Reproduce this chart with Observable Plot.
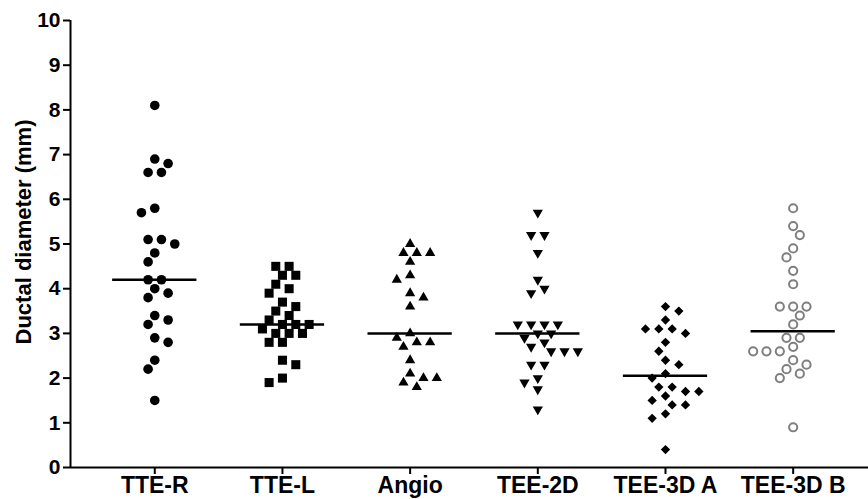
<!DOCTYPE html>
<html>
<head>
<meta charset="utf-8">
<script src="https://cdn.jsdelivr.net/npm/d3@7"></script>
<script src="https://cdn.jsdelivr.net/npm/@observablehq/plot@0.6"></script>
<style>
  html, body { margin: 0; padding: 0; background: #fff; }
  #chart { width: 868px; height: 499px; }
</style>
</head>
<body>
<div id="chart"></div>
<script>
// ---- data ----
const groups = ["TTE-R", "TTE-L", "Angio", "TEE-2D", "TEE-3D A", "TEE-3D B"];
const tteR   = [8.1, 6.9, 6.8, 6.6, 6.6, 5.8, 5.7, 5.1, 5.0, 5.1, 4.8, 4.6, 4.2, 4.2, 4.0, 3.9, 3.8, 3.4, 3.3, 3.2, 2.9, 2.8, 2.4, 2.2, 1.5];
const tteL   = [4.5, 4.5, 4.3, 4.3, 4.1, 4.0, 3.9, 3.7, 3.6, 3.5, 3.4, 3.3, 3.2, 3.2, 3.2, 3.1, 3.0, 3.0, 3.0, 2.8, 2.8, 2.4, 2.3, 2.0, 1.9];
const angio  = [5.0, 4.8, 4.8, 4.8, 4.6, 4.3, 4.2, 3.9, 3.8, 3.6, 3.0, 2.9, 2.8, 2.8, 2.7, 2.4, 2.1, 2.0, 2.0, 1.9, 1.8];
const tee2D  = [5.7, 5.2, 5.2, 4.8, 4.2, 4.0, 3.9, 3.2, 3.2, 3.2, 3.2, 3.0, 3.0, 2.9, 2.8, 2.7, 2.6, 2.6, 2.6, 2.3, 2.3, 2.0, 1.9, 1.75, 1.3];
const tee3DA = [3.6, 3.5, 3.3, 3.1, 3.1, 3.1, 3.0, 2.8, 2.6, 2.4, 2.3, 2.1, 2.0, 1.8, 1.8, 1.7, 1.7, 1.6, 1.5, 1.4, 1.4, 1.2, 1.1, 0.4];
const tee3DB = [5.8, 5.4, 5.2, 4.9, 4.7, 4.4, 4.1, 3.6, 3.6, 3.6, 3.4, 3.2, 2.9, 2.9, 2.7, 2.6, 2.6, 2.6, 2.4, 2.3, 2.2, 2.1, 2.0, 0.9];
const medians = [4.2, 3.2, 3.0, 3.0, 2.05, 3.05];
const yTicks = [0, 1, 2, 3, 4, 5, 6, 7, 8, 9, 10];
const yLabel = "Ductal diameter (mm)";
const series = [tteR, tteL, angio, tee2D, tee3DA, tee3DB];

// ---- scatter-dot layout (GraphPad-like horizontal spreading) ----
const W = 868, H = 499, ML = 70, MR = 0, MT = 20, MB = 32;
const xDomain = [-0.66, 5.59];
const pxPerCat = (W - ML - MR) / (xDomain[1] - xDomain[0]);
const pxPerVal = (H - MT - MB) / 10;
const HALF = 6.67;       // horizontal grid step (px)
const DMIN = 9;          // minimum centre distance (px)

function swarm(values) {
  const idx = d3.range(values.length).sort((a, b) => values[b] - values[a]);
  const placed = [];
  const off = new Array(values.length).fill(0);
  let flip = 1;
  let k = 0;
  while (k < idx.length) {
    let m = k + 1;
    while (m < idx.length && values[idx[k]] - values[idx[m]] < 0.05) m++;
    const n = m - k;
    const base = d3.range(n).map(j => 2 * j - (n - 1));
    const shifts = [0];
    for (let s = 1; s <= 14; s++) shifts.push(flip * s, -flip * s);
    let chosen = 0;
    for (const s of shifts) {
      const ok = base.every((b, j) => {
        const o = b + s, v = values[idx[k + j]];
        return placed.every(p => Math.hypot((p.o - o) * HALF, (p.v - v) * pxPerVal) >= DMIN);
      });
      if (ok) { chosen = s; break; }
    }
    if (chosen !== 0) flip = -Math.sign(chosen);
    base.forEach((b, j) => {
      const o = b + chosen, v = values[idx[k + j]];
      placed.push({o, v});
      off[idx[k + j]] = o;
    });
    k = m;
  }
  return off;
}

const rows = series.map((vals, gi) => {
  const off = swarm(vals);
  return vals.map((v, i) => ({gi, v, x: gi + off[i] * HALF / pxPerCat}));
});

const triangleDown = {
  draw(context, size) {
    const y = -Math.sqrt(size / (Math.sqrt(3) * 3));
    context.moveTo(0, -y * 2);
    context.lineTo(-Math.sqrt(3) * y, y);
    context.lineTo(Math.sqrt(3) * y, y);
    context.closePath();
  }
};

const font = "'Liberation Sans', Arial, Helvetica, sans-serif";

const chart = Plot.plot({
  width: W, height: H,
  marginLeft: ML, marginRight: MR, marginTop: MT, marginBottom: MB,
  style: {fontFamily: font, color: "#000", background: "#fff", overflow: "visible"},
  x: {type: "linear", domain: xDomain},
  y: {domain: [0, 10]},
  marks: [
    Plot.dot(rows[0], {x: "x", y: "v", symbol: "circle", r: 4.8, fill: "#000", stroke: "none"}),
    Plot.dot(rows[1], {x: "x", y: "v", symbol: "square", r: 5.1, fill: "#000", stroke: "none"}),
    Plot.dot(rows[2], {x: "x", y: "v", symbol: "triangle", r: 3.8, fill: "#000", stroke: "none"}),
    Plot.dot(rows[3], {x: "x", y: "v", symbol: triangleDown, r: 3.8, fill: "#000", stroke: "none"}),
    Plot.dot(rows[4], {x: "x", y: "v", symbol: "diamond2", r: 4.2, fill: "#000", stroke: "none"}),
    Plot.dot(rows[5], {x: "x", y: "v", symbol: "circle", r: 4.1, fill: "#fff", stroke: "#7f7f7f", strokeWidth: 2}),
    Plot.ruleY(medians.map((m, i) => ({i, m})), {y: "m", x1: d => d.i - 0.33, x2: d => d.i + 0.33, stroke: "#000", strokeWidth: 2.5}),
    Plot.ruleY([0], {stroke: "#000", strokeWidth: 2}),
    Plot.ruleX([xDomain[0]], {y1: 0, y2: 10, stroke: "#000", strokeWidth: 2}),
    Plot.axisY({ticks: yTicks, tickSize: 7, tickPadding: 3, strokeWidth: 2, fontSize: 21, fontWeight: "bold", label: null}),
    Plot.axisX({ticks: d3.range(groups.length), tickFormat: i => groups[i], tickSize: 7, tickPadding: 2, strokeWidth: 2, fontSize: 23, fontWeight: "bold", label: null}),
    Plot.text([yLabel], {text: d => d, frameAnchor: "left", dx: -47, dy: -12, rotate: -90, textAnchor: "middle", lineAnchor: "middle", fontSize: 22, fontWeight: "bold", fill: "#000"})
  ]
});

document.getElementById("chart").appendChild(chart);
</script>
</body>
</html>
